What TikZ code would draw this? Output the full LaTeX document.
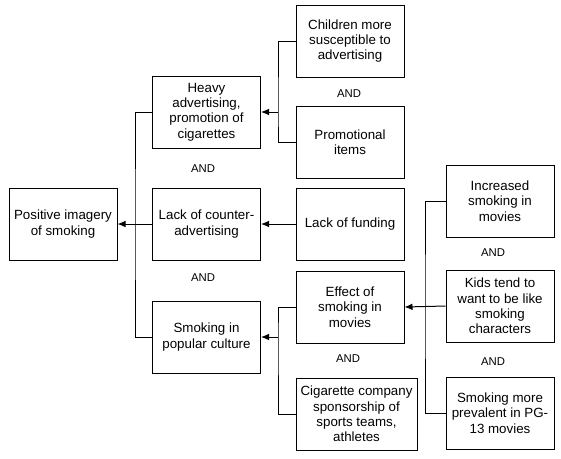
\documentclass[tikz,border=0pt]{standalone}
\usepackage{fontspec}
\setmainfont{Liberation Sans}
\usetikzlibrary{arrows.meta}
\begin{document}
\begin{tikzpicture}[x=0.75pt,y=-0.75pt,
  box/.style={draw=black,line width=0.75pt,minimum width=81pt,minimum height=54pt,align=center,inner sep=1pt,font=\fontsize{10pt}{11.5pt}\selectfont},
  andlbl/.style={font=\fontsize{8.5pt}{10pt}\selectfont,inner sep=0pt},
  conn/.style={line width=0.75pt,draw=black},
  arr/.style={conn,-{Latex[length=6pt,width=5pt]}}]
\useasboundingbox (0,0) rectangle (561,458);
\fill[white] (0,0) rectangle (561,458);
% boxes
\node[box] (pos) at (63,224) {Positive imagery\\of smoking};
\node[box] (heavy) at (206.5,112) {Heavy\\advertising,\\promotion of\\cigarettes};
\node[box] (lack) at (206.5,224) {Lack of counter-\\advertising};
\node[box] (pop) at (206.5,337) {Smoking in\\popular culture};
\node[box] (children) at (350,41) {Children more\\susceptible to\\advertising};
\node[box] (promo) at (350,142.5) {Promotional\\items};
\node[box] (funding) at (350,224) {Lack of funding};
\node[box] (effect) at (350,307) {Effect of\\smoking in\\movies};
\node[box,minimum width=90.75pt] (cig) at (356.5,414) {Cigarette company\\sponsorship of\\sports teams,\\athletes};
\node[box] (incr) at (500,201) {Increased\\smoking in\\movies};
\node[box] (kids) at (500,306) {Kids tend to\\want to be like\\smoking\\characters};
\node[box] (pg) at (500,413) {Smoking more\\prevalent in PG-\\13 movies};
% AND labels
\node[andlbl] (a1) at (203,169) {AND};
\node[andlbl] (a2) at (203,278) {AND};
\node[andlbl] (a3) at (349,94) {AND};
\node[andlbl] (a4) at (348,359) {AND};
\node[andlbl] (a5) at (493,253) {AND};
\node[andlbl] (a6) at (493,362) {AND};
% junctions
\coordinate (j0) at (135,224);
\coordinate (j1) at (278,112);
\coordinate (j2) at (278,337);
\coordinate (j3) at (425,306);
% connectors
\draw[conn] (heavy.west) -| (j0) |- (pop.west);
\draw[arr] (lack.west) -- (pos.east);
\draw[conn] (children.west) -| (j1) |- (promo.west);
\draw[arr] (j1) -- (heavy.east);
\draw[arr] (funding.west) -- (lack.east);
\draw[conn] (effect.west) -| (j2) |- (cig.west);
\draw[arr] (j2) -- (pop.east);
\draw[conn] (incr.west) -| (j3) |- (pg.west);
\draw[arr] (kids.west) -- (effect.east);
\end{tikzpicture}
\end{document}
